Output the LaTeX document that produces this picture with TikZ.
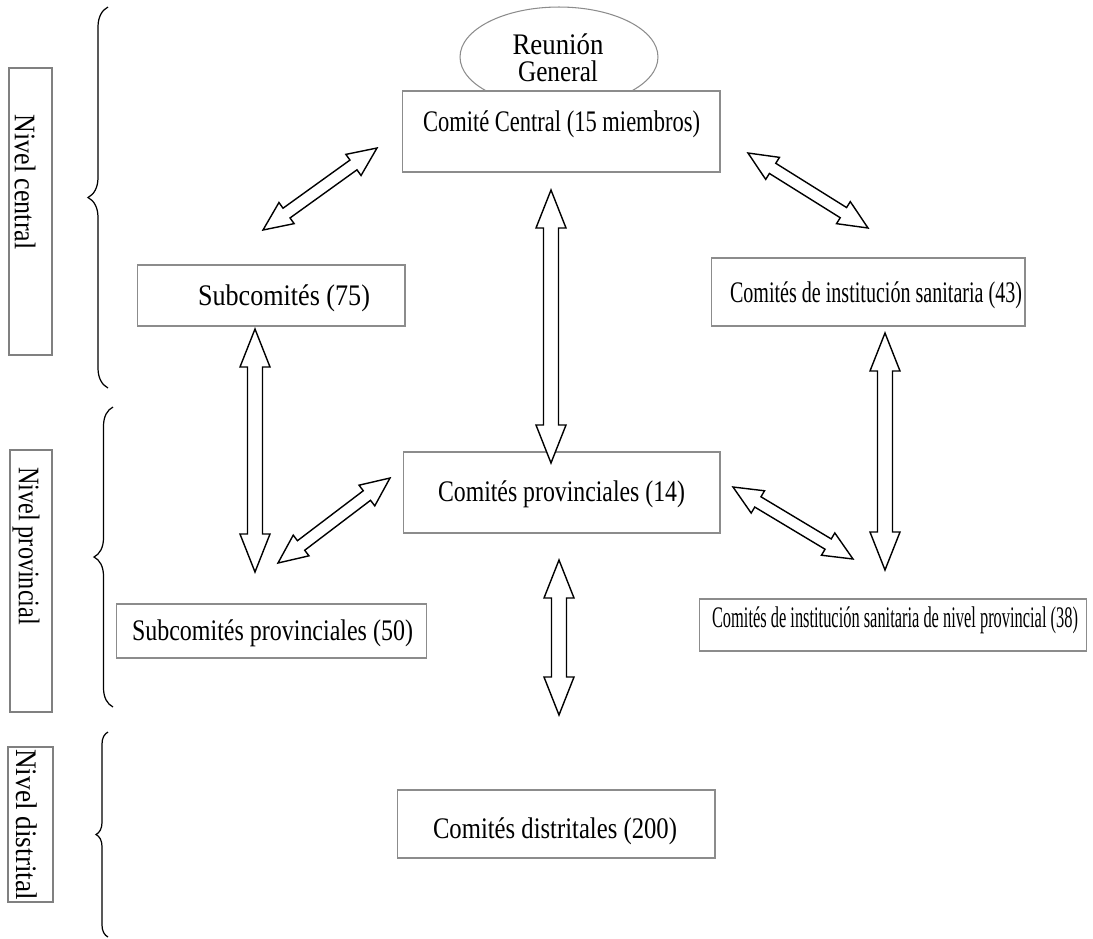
\documentclass[tikz,border=0pt]{standalone}
\usepackage{fontspec}
\setmainfont{Liberation Serif}
\usepackage{graphicx}
\usetikzlibrary{calc,shapes.geometric,decorations.pathreplacing}
\definecolor{boxgray}{HTML}{8C8C8C}
\definecolor{lvlgray}{HTML}{808080}
\newcommand{\fw}[2]{\resizebox{#1}{\height}{#2}}
% double block arrow from #1 to #2; #3 head length, #4 head half width, #5 shaft half width
\newcommand{\dblarr}[5]{%
\draw[blockarr] (#1) -- ($(#1)!#3!(#2)!#4!90:(#2)$) -- ($(#1)!#3!(#2)!#5!90:(#2)$)
 -- ($(#2)!#3!(#1)!#5!-90:(#1)$) -- ($(#2)!#3!(#1)!#4!-90:(#1)$) -- (#2)
 -- ($(#2)!#3!(#1)!#4!90:(#1)$) -- ($(#2)!#3!(#1)!#5!90:(#1)$)
 -- ($(#1)!#3!(#2)!#5!-90:(#2)$) -- ($(#1)!#3!(#2)!#4!-90:(#2)$) -- cycle;}
\begin{document}
\begin{tikzpicture}[x=0.02cm,y=-0.02cm,
  box/.style={draw=boxgray, line width=0.6pt, fill=white, inner sep=0pt},
  txt/.style={inner sep=0pt, font=\fontsize{17}{20}\selectfont},
  lvlbox/.style={draw=lvlgray, line width=1pt, inner sep=0pt},
  lvltext/.style={rotate=-90, inner sep=0pt, font=\fontsize{17}{20}\selectfont},
  blockarr/.style={draw=black, line width=0.8pt, fill=white, line join=miter},
  bracel/.style={decorate, decoration={brace, amplitude=#1}, line width=0.7pt}]
\useasboundingbox (0,0) rectangle (1093,938);

% level labels
\node[lvlbox, minimum width=0.86cm, minimum height=5.74cm] (lvc) at (30.5,211.5) {};
\node[lvltext] (lvctxt) at (25,182) {\fw{2.70cm}{Nivel central}};
\node[lvlbox, minimum width=0.84cm, minimum height=5.24cm] (lvp) at (31,581) {};
\node[lvltext] (lvptxt) at (26,546) {\fw{3.16cm}{Nivel provincial}};
\node[lvlbox, minimum width=0.90cm, minimum height=3.10cm] (lvd) at (30.5,824.5) {};
\node[lvltext] (lvdtxt) at (27,824.5) {\fw{3.02cm}{Nivel distrital}};

% braces
\coordinate (b1a) at (108,388); \coordinate (b1b) at (108,7);
\coordinate (b2a) at (113,707); \coordinate (b2b) at (113,407);
\coordinate (b3a) at (108,937); \coordinate (b3b) at (108,732);
\draw[bracel=0.4cm] (b1a) -- (b1b);
\draw[bracel=0.38cm] (b2a) -- (b2b);
\draw[bracel=0.24cm] (b3a) -- (b3b);

% ellipse and boxes
\node[ellipse, draw=boxgray, line width=0.6pt, minimum width=3.96cm, minimum height=2.0cm, inner sep=0pt] (reunion) at (559,57) {};
\node[txt] (reuniontxt1) at (558,44) {\fw{1.82cm}{Reunión}};
\node[txt] (reuniontxt2) at (558,71) {\fw{1.60cm}{General}};
\node[box, minimum width=6.36cm, minimum height=1.62cm] (central) at (561,131.5) {};
\node[txt] (centraltxt) at (561.5,124) {\fw{5.54cm}{Comité Central (15 miembros)}};

\node[box, minimum width=5.36cm, minimum height=1.22cm] (sub) at (271,295.5) {};
\node[txt] (subtxt) at (284,298) {\fw{3.44cm}{Subcomités (75)}};

\node[box, minimum width=6.28cm, minimum height=1.36cm] (inst) at (868,292) {};
\node[txt] (insttxt) at (876,295) {\fw{5.84cm}{Comités de institución sanitaria (43)}};

\node[box, minimum width=6.34cm, minimum height=1.62cm] (prov) at (561.5,492.5) {};
\node[txt] (provtxt) at (561.5,494) {\fw{4.94cm}{Comités provinciales (14)}};

\node[box, minimum width=6.22cm, minimum height=1.08cm] (subprov) at (271.5,631) {};
\node[txt] (subprovtxt) at (272.5,633.5) {\fw{5.62cm}{Subcomités provinciales (50)}};

\node[box, minimum width=7.76cm, minimum height=1.04cm] (instprov) at (893,625) {};
\node[txt] (instprovtxt) at (895,620) {\fw{7.32cm}{Comités de institución sanitaria de nivel provincial (38)}};

\node[box, minimum width=6.36cm, minimum height=1.36cm] (dist) at (556,824) {};
\node[txt] (disttxt) at (555,831.5) {\fw{4.88cm}{Comités distritales (200)}};

% arrow end points
\coordinate (a1s) at (263,230); \coordinate (a1e) at (377,148);
\coordinate (a2s) at (748,153); \coordinate (a2e) at (868,228);
\coordinate (a3s) at (551,190); \coordinate (a3e) at (551,463);
\coordinate (a4s) at (255,329); \coordinate (a4e) at (255,572);
\coordinate (a5s) at (278,563); \coordinate (a5e) at (390,478);
\coordinate (a6s) at (885,333); \coordinate (a6e) at (885,570);
\coordinate (a7s) at (733,487); \coordinate (a7e) at (853,559);
\coordinate (a8s) at (559,560); \coordinate (a8e) at (559,715);

\dblarr{a1s}{a1e}{0.58cm}{0.26cm}{0.12cm}
\dblarr{a2s}{a2e}{0.58cm}{0.26cm}{0.12cm}
\dblarr{a5s}{a5e}{0.58cm}{0.26cm}{0.12cm}
\dblarr{a7s}{a7e}{0.58cm}{0.26cm}{0.12cm}
\dblarr{a3s}{a3e}{0.76cm}{0.30cm}{0.15cm}
\dblarr{a4s}{a4e}{0.76cm}{0.30cm}{0.15cm}
\dblarr{a6s}{a6e}{0.76cm}{0.30cm}{0.15cm}
\dblarr{a8s}{a8e}{0.76cm}{0.30cm}{0.15cm}
\end{tikzpicture}
\end{document}
